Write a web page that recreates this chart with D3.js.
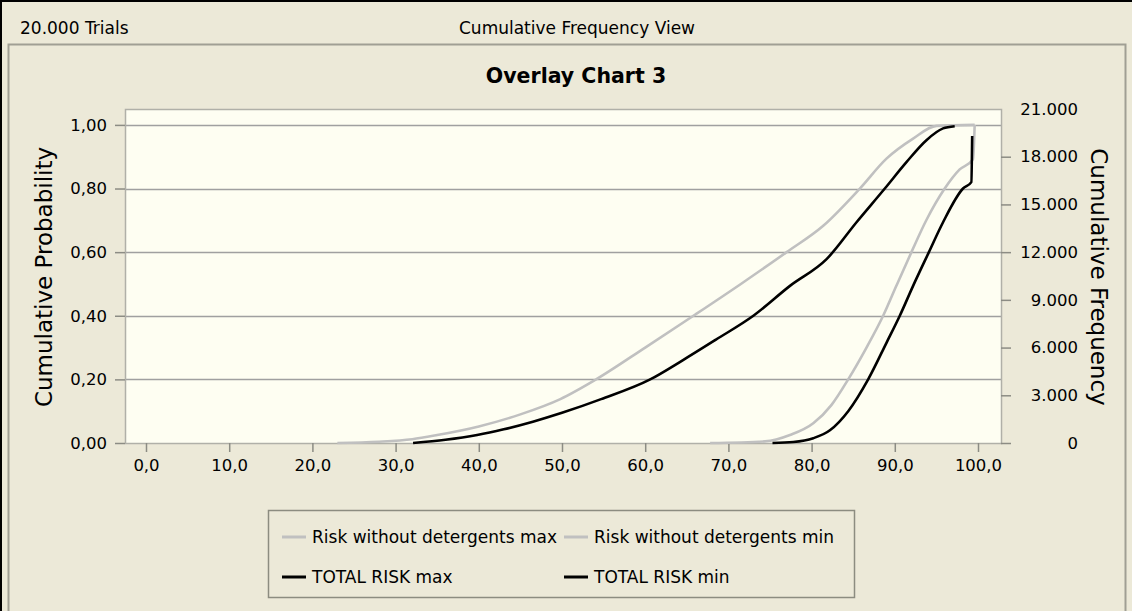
<!DOCTYPE html>
<html>
<head>
<meta charset="utf-8">
<script src="https://cdn.jsdelivr.net/npm/d3@7"></script>
<style>
body { margin: 0; background: #ece9d8; overflow: hidden; }
text { font-family: "DejaVu Sans", sans-serif; fill: #000; }
</style>
</head>
<body>
<svg id="chart" width="1132" height="611"></svg>
<script>
// ---- data ----
var probTicks = [0, 0.2, 0.4, 0.6, 0.8, 1.0];
var freqTicks = [0, 3000, 6000, 9000, 12000, 15000, 18000, 21000];
var xTicks = [0, 10, 20, 30, 40, 50, 60, 70, 80, 90, 100];

// Risk without detergents max (grey, left)
var riskMaxX = [23, 28, 32, 35, 40, 45, 49.8, 54.1, 60.0, 65.8, 71.5, 77.0, 81.4, 85.8, 89.0, 92.2, 95.0, 99.6];
var riskMaxP = [0, 0.004, 0.012, 0.025, 0.052, 0.09, 0.138, 0.2, 0.3, 0.4, 0.5, 0.6, 0.683, 0.8, 0.894, 0.957, 0.997, 1.0];

// TOTAL RISK max (black, left)
var totalMaxX = [32.1, 36, 39.8, 43, 46.5, 50, 54.7, 60.6, 64.5, 68.5, 73.0, 77.4, 81.8, 85.4, 88.8, 91.4, 93.8, 95.8, 97.2];
var totalMaxP = [0, 0.01, 0.025, 0.043, 0.067, 0.095, 0.138, 0.2, 0.26, 0.325, 0.4, 0.494, 0.578, 0.694, 0.8, 0.883, 0.952, 0.989, 0.996];

// Risk without detergents min (grey, right)
var riskMinX = [67.8, 74.4, 77.4, 80.2, 82.4, 84.4, 86.6, 88.6, 90.2, 92.0, 93.8, 96.0, 97.8, 99.4, 99.6];
var riskMinP = [0, 0.005, 0.025, 0.062, 0.12, 0.2, 0.3, 0.4, 0.495, 0.6, 0.701, 0.8, 0.86, 0.892, 1.0];

// TOTAL RISK min (black, right)
var totalMinX = [75.3, 77.8, 80.2, 82.2, 84.4, 86.8, 89.0, 90.6, 92.2, 94.1, 95.8, 98.2, 99.2, 99.3];
var totalMinP = [0, 0.003, 0.015, 0.04, 0.1, 0.2, 0.315, 0.4, 0.494, 0.6, 0.694, 0.8, 0.82, 0.965];

var seriesNames = ["Risk without detergents max", "Risk without detergents min", "TOTAL RISK max", "TOTAL RISK min"];
var seriesColors = ["#c0c0c0", "#c0c0c0", "#000000", "#000000"];

// ---- layout ----
var svg = d3.select("#chart");
var box = {left: 125, right: 1001, top: 109, bottom: 443};

var x = d3.scaleLinear().domain([0, 100]).range([146, 978]);
var y = d3.scaleLinear().domain([0, 1.05]).range([box.bottom, box.top]);
var yFreq = d3.scaleLinear().domain([0, 21000]).range([box.bottom, box.top]);

// window frame
svg.append("rect").attr("x", 0).attr("y", 0).attr("width", 1132).attr("height", 611).attr("fill", "#ece9d8");
svg.append("line").attr("x1", 0).attr("x2", 1132).attr("y1", 1).attr("y2", 1).attr("stroke", "#000").attr("stroke-width", 2);
svg.append("line").attr("x1", 1).attr("x2", 1).attr("y1", 0).attr("y2", 611).attr("stroke", "#000").attr("stroke-width", 2);
svg.append("rect").attr("x", 8.5).attr("y", 44.5).attr("width", 1117).attr("height", 600)
    .attr("fill", "none").attr("stroke", "#a09f94").attr("stroke-width", 2);

svg.append("text").attr("x", 20).attr("y", 34).style("font-size", "17px").text("20.000 Trials");
svg.append("text").attr("x", 577).attr("y", 34).attr("text-anchor", "middle").style("font-size", "17px").text("Cumulative Frequency View");
svg.append("text").attr("x", 576).attr("y", 83).attr("text-anchor", "middle")
    .style("font-size", "20.5px").style("font-weight", "bold").text("Overlay Chart 3");

// plot background
svg.append("rect").attr("x", box.left).attr("y", box.top)
    .attr("width", box.right - box.left).attr("height", box.bottom - box.top)
    .attr("fill", "#fefef2");

// grid lines
svg.append("g").selectAll("line").data(probTicks.slice(1)).enter().append("line")
    .attr("x1", box.left).attr("x2", box.right)
    .attr("y1", function(d) { return Math.round(y(d)) + 0.5; })
    .attr("y2", function(d) { return Math.round(y(d)) + 0.5; })
    .attr("stroke", "#a0a0a0").attr("stroke-width", 1.5);

svg.append("rect").attr("x", box.left + 0.5).attr("y", box.top + 0.5)
    .attr("width", box.right - box.left).attr("height", box.bottom - box.top)
    .attr("fill", "none").attr("stroke", "#b0b0a8").attr("stroke-width", 1.5);

// axes
var fmtProb = function(d) { return d3.format(".2f")(d).replace(".", ","); };
var fmtX = function(d) { return d3.format(".1f")(d).replace(".", ","); };
var fmtFreq = function(d) { return d === 0 ? "0" : d3.format(",")(d).replace(/,/g, "."); };

var leftAxis = svg.append("g").attr("transform", "translate(" + box.left + ",0)")
    .call(d3.axisLeft(y).tickValues(probTicks).tickFormat(fmtProb).tickSize(10).tickPadding(8));
var rightAxis = svg.append("g").attr("transform", "translate(" + box.right + ",0)")
    .call(d3.axisRight(yFreq).tickValues(freqTicks).tickFormat(fmtFreq).tickSize(10).tickPadding(8));
var bottomAxis = svg.append("g").attr("transform", "translate(0," + box.bottom + ")")
    .call(d3.axisBottom(x).tickValues(xTicks).tickFormat(fmtX).tickSize(9).tickPadding(7));

[leftAxis, rightAxis, bottomAxis].forEach(function(a) {
    a.select(".domain").remove();
    a.selectAll(".tick line").attr("stroke", "#8c8c84").attr("stroke-width", 1.5);
    a.selectAll(".tick text").style("font-size", "16.5px").style("font-family", "DejaVu Sans").attr("fill", "#000");
});
// hide the top right tick mark (21.000 sits on the frame)
rightAxis.selectAll(".tick").filter(function(d) { return d === 21000; }).select("line").remove();
// right labels are right-aligned
rightAxis.selectAll(".tick text").attr("text-anchor", "end").attr("x", 77);

svg.append("text").attr("transform", "translate(52,277) rotate(-90)").attr("text-anchor", "middle")
    .style("font-size", "23px").text("Cumulative Probability");
svg.append("text").attr("transform", "translate(1091,277) rotate(90)").attr("text-anchor", "middle")
    .style("font-size", "23px").text("Cumulative Frequency");

// curves
var line = d3.line().curve(d3.curveMonotoneX)
    .x(function(d) { return x(d[0]); }).y(function(d) { return y(d[1]); });
function pairs(xs, ps) { return xs.map(function(v, i) { return [v, ps[i]]; }); }
var curves = [
    {data: pairs(riskMaxX, riskMaxP), color: seriesColors[0]},
    {data: pairs(riskMinX, riskMinP), color: seriesColors[1]},
    {data: pairs(totalMaxX, totalMaxP), color: seriesColors[2]},
    {data: pairs(totalMinX, totalMinP), color: seriesColors[3]}
];
svg.append("g").selectAll("path").data(curves).enter().append("path")
    .attr("d", function(d) { return line(d.data); })
    .attr("fill", "none").attr("stroke", function(d) { return d.color; })
    .attr("stroke-width", 2.6).attr("stroke-linejoin", "round");

// legend
svg.append("rect").attr("x", 268.5).attr("y", 510.5).attr("width", 586).attr("height", 87)
    .attr("fill", "none").attr("stroke", "#8c8c80").attr("stroke-width", 1.5);
var legendPos = [[282, 537], [564, 537], [282, 577], [564, 577]];
var leg = svg.append("g").selectAll("g").data(seriesNames).enter().append("g")
    .attr("transform", function(d, i) { return "translate(" + legendPos[i][0] + "," + legendPos[i][1] + ")"; });
leg.append("line").attr("x1", 0).attr("x2", 24).attr("y1", 0).attr("y2", 0)
    .attr("stroke", function(d, i) { return seriesColors[i]; }).attr("stroke-width", 3);
leg.append("text").attr("x", 30).attr("y", 6).style("font-size", "17px").text(function(d) { return d; });
</script>
</body>
</html>
